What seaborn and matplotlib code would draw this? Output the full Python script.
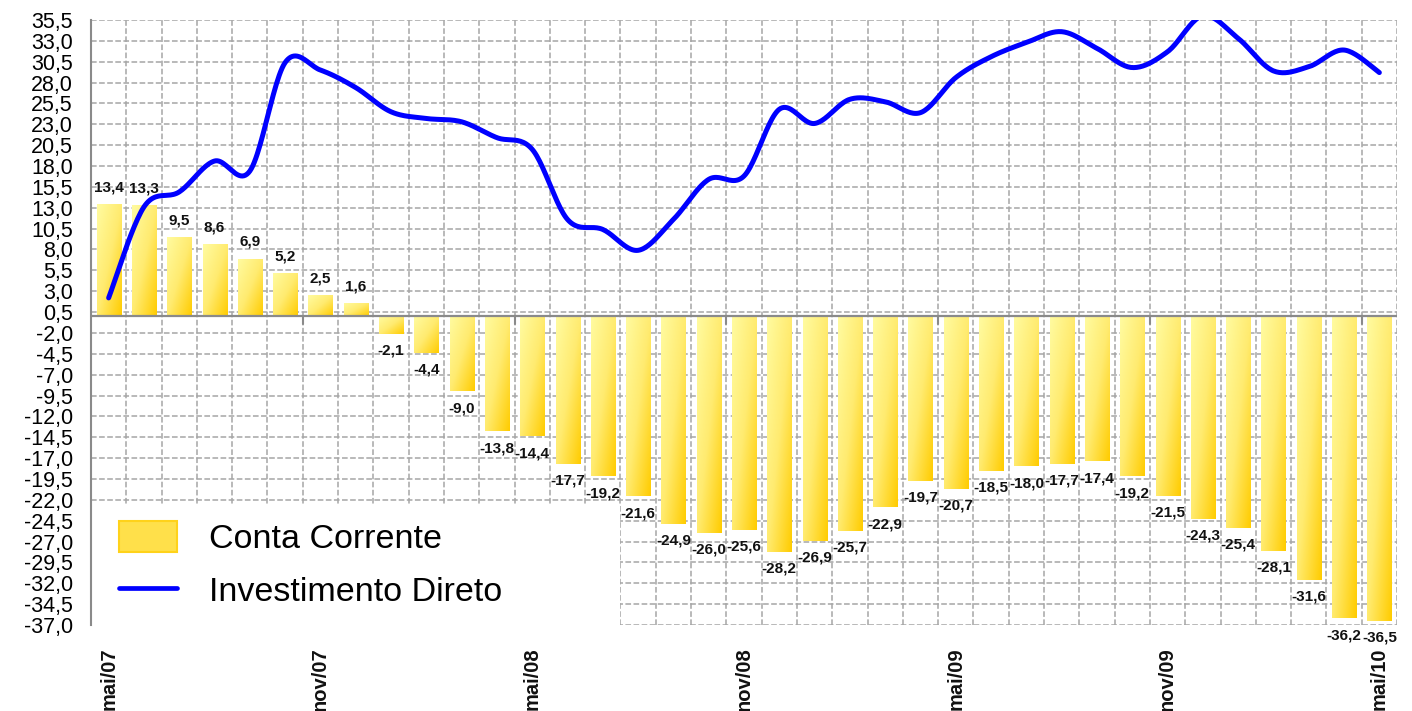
import numpy as np
import pandas as pd
import matplotlib
matplotlib.use('Agg')
import matplotlib.pyplot as plt
from matplotlib.colors import LinearSegmentedColormap
from matplotlib.patches import Patch, Rectangle
from matplotlib.lines import Line2D
import seaborn as sns

# Monthly series, mai/07 .. mai/10 (US$ bilhoes, 12 meses)
meses_nome = ['jan', 'fev', 'mar', 'abr', 'mai', 'jun', 'jul', 'ago', 'set', 'out', 'nov', 'dez']
meses = []
for ano in [7, 8, 9, 10]:
    for m in meses_nome:
        meses.append(f"{m}/{ano:02d}")
meses = meses[4:4 + 37]

conta_corrente = [13.4, 13.3, 9.5, 8.6, 6.9, 5.2, 2.5, 1.6, -2.1, -4.4, -9.0, -13.8, -14.4,
                  -17.7, -19.2, -21.6, -24.9, -26.0, -25.6, -28.2, -26.9, -25.7, -22.9, -19.7,
                  -20.7, -18.5, -18.0, -17.7, -17.4, -19.2, -21.5, -24.3, -25.4, -28.1, -31.6,
                  -36.2, -36.5]

investimento_direto = [2.2, 13.1, 14.9, 18.6, 17.4, 30.4, 29.5, 27.4, 24.5, 23.7, 23.3, 21.4, 20.0,
                       11.6, 10.4, 7.9, 11.6, 16.4, 16.8, 24.8, 23.1, 26.0, 25.7, 24.4, 28.6,
                       31.1, 32.8, 34.1, 32.1, 29.8, 31.7, 36.0, 33.3, 29.4, 29.9, 31.9, 29.2]

yticks = np.arange(-37.0, 35.6, 2.5)
label_every = 6

df = pd.DataFrame({'mes': meses, 'conta': conta_corrente, 'invest': investimento_direto})


def smooth(x, y, n=24):
    p = np.column_stack([x, y]).astype(float)
    p = np.vstack([p[0], p, p[-1]])
    out = []
    t = np.linspace(0, 1, n, endpoint=False)[:, None]
    for i in range(1, len(p) - 2):
        p0, p1, p2, p3 = p[i - 1], p[i], p[i + 1], p[i + 2]
        pts = 0.5 * (2 * p1 + (-p0 + p2) * t + (2 * p0 - 5 * p1 + 4 * p2 - p3) * t ** 2
                     + (-p0 + 3 * p1 - 3 * p2 + p3) * t ** 3)
        out.append(pts)
    out.append(p[-2][None])
    s = np.vstack(out)
    return s[:, 0], s[:, 1]


sns.set_style('white')
plt.rcParams['font.family'] = ['Liberation Sans', 'DejaVu Sans']

fig = plt.figure(figsize=(14.12, 7.11), dpi=100)
ax = fig.add_axes([91 / 1412, (711 - 625) / 711, 1306 / 1412, 605 / 711])

sns.barplot(data=df, x='mes', y='conta', color='#FFE766', width=0.68, ax=ax,
            saturation=1, zorder=2)

# diagonal yellow gradient inside each bar
cmap = LinearSegmentedColormap.from_list('amarelo', ['#FFFBA0', '#FFEB70', '#FFCC00'])
gx, gy = np.meshgrid(np.linspace(0, 1, 40), np.linspace(0, 1, 80))
grad = (gx + gy) / 2
for patch in ax.patches:
    x0, w = patch.get_x(), patch.get_width()
    y0, h = patch.get_y(), patch.get_height()
    top, bottom = max(y0, y0 + h), min(y0, y0 + h)
    im = ax.imshow(grad, cmap=cmap, vmin=0, vmax=1, aspect='auto', origin='upper',
                   extent=[x0, x0 + w, bottom, top], zorder=2, interpolation='bilinear')
    im.set_clip_path(patch)
    patch.set_facecolor('none')
    patch.set_edgecolor('none')

rotulos = [f"{v:.1f}".replace('.', ',') for v in conta_corrente]
ax.bar_label(ax.containers[0], labels=rotulos, padding=7, fontsize=11,
             fontweight='bold', color='#111111', zorder=4)

sx, sy = smooth(np.arange(len(investimento_direto)), investimento_direto)
ax.plot(sx, sy, color='#0000FF', lw=3.6, solid_capstyle='round', zorder=5)

ax.set_xlim(-0.5, len(meses) - 0.5)
ax.set_ylim(-37.0, 35.5)

# grid
ax.set_yticks(yticks)
ax.set_yticklabels([f"{v:.1f}".replace('.', ',') for v in yticks], fontsize=15.5, color='black')
ax.set_xticks(np.arange(len(meses))[::label_every])
ax.set_xticklabels(meses[::label_every], rotation=90, fontsize=14.5, fontweight='bold',
                   va='top', color='#111111')
ax.set_xticks(np.arange(-0.5, len(meses)), minor=True)
ax.tick_params(axis='x', which='both', length=0, pad=16)
ax.tick_params(axis='y', length=7, width=1.3, color='#8a8a8a', direction='out', pad=6)
ax.grid(True, axis='y', which='major', ls='--', color='#a6a6a6', lw=1.1)
ax.grid(True, axis='x', which='minor', ls='--', color='#a6a6a6', lw=1.1)
ax.grid(False, axis='x', which='major')
ax.set_axisbelow(True)
for s in ['top', 'right', 'bottom']:
    ax.spines[s].set_visible(False)
ax.spines['left'].set_color('#8a8a8a')
ax.spines['left'].set_linewidth(1.5)

ax.axhline(0, color='#8a8a8a', lw=1.6, zorder=3)
for b in np.arange(-0.5, len(meses))[label_every::label_every]:
    ax.plot([b, b], [0, -0.9], color='#8a8a8a', lw=1.5, zorder=3)

ax.set_xlabel('')
ax.set_ylabel('')

# white legend area
ax.add_patch(Rectangle((-0.5, -37.0), 15, 14.5, facecolor='white', edgecolor='none', zorder=1))

handles = [Patch(facecolor='#FFE04A', edgecolor='#FFD21A', lw=1.5),
           Line2D([0], [0], color='#0000FF', lw=3.4)]
ax.legend(handles, ['Conta Corrente', 'Investimento Direto'], loc='lower left',
          bbox_to_anchor=(0.011, 0.005), borderaxespad=0, frameon=False, fontsize=24.5,
          labelcolor='black', handlelength=1.7, handleheight=1.05, handletextpad=0.95,
          labelspacing=0.55)

fig.savefig('out.png', dpi=100)
